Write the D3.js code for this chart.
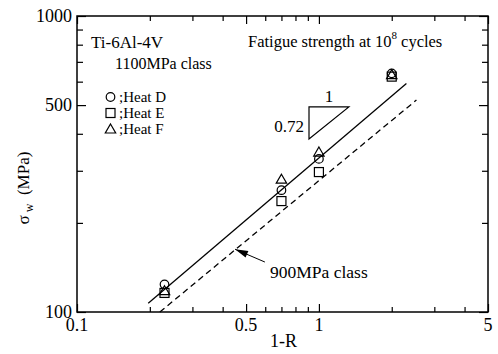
<!DOCTYPE html>
<html>
<head>
<meta charset="utf-8">
<script src="https://cdn.jsdelivr.net/npm/d3@7"></script>
<style>
  body { margin: 0; background: #fff; }
  svg { display: block; }
</style>
</head>
<body>
<div id="chart"></div>
<script>
// 1-R values of the test points
const ratios = [0.23, 0.7, 1, 2];
// fatigue strength at 10^8 cycles (MPa)
const heatD = [124, 258, 329, 640];
const heatE = [116, 237, 297, 624];
const heatF = [118, 281, 347, 634];

// fitted lines (end points)
const fit1100X = [0.197, 2.30];
const fit1100Y = [107, 592];
const fit900X = [0.220, 2.53];
const fit900Y = [100, 520];

const xMajor = [0.1, 0.5, 1, 5];
const xMinor = [0.2, 0.3, 0.4, 0.6, 0.7, 0.8, 0.9, 2, 3, 4];
const yMajor = [100, 500, 1000];
const yMinor = [200, 300, 400, 600, 700, 800, 900];

const W = 498, H = 354;
const margin = { top: 16, right: 10, bottom: 42, left: 77 };

const x = d3.scaleLog().domain([0.1, 5]).range([margin.left, W - margin.right]);
const y = d3.scaleLog().domain([100, 1000]).range([H - margin.bottom, margin.top]);

const svg = d3.select('#chart').append('svg')
  .attr('width', W)
  .attr('height', H)
  .attr('font-family', "'Liberation Serif', 'DejaVu Serif', serif");

// ticks, pointing inward on all four sides
function ticks(axis, vals, size, tr) {
  const g = svg.append('g')
    .attr('transform', tr)
    .call(axis.tickValues(vals).tickSize(size).tickFormat(''));
  g.select('.domain').remove();
  g.selectAll('line').attr('stroke', '#000').attr('stroke-width', 1.2);
}
const bottomY = y(100), topY = y(1000), leftX = x(0.1), rightX = x(5);
ticks(d3.axisBottom(x), xMinor, -5, 'translate(0,' + bottomY + ')');
ticks(d3.axisBottom(x), xMajor, -8, 'translate(0,' + bottomY + ')');
ticks(d3.axisTop(x), xMinor, -5, 'translate(0,' + topY + ')');
ticks(d3.axisTop(x), xMajor, -8, 'translate(0,' + topY + ')');
ticks(d3.axisLeft(y), yMinor, -6, 'translate(' + leftX + ',0)');
ticks(d3.axisLeft(y), yMajor, -9, 'translate(' + leftX + ',0)');
ticks(d3.axisRight(y), yMinor, -6, 'translate(' + rightX + ',0)');
ticks(d3.axisRight(y), yMajor, -9, 'translate(' + rightX + ',0)');

svg.append('rect')
  .attr('x', leftX).attr('y', topY)
  .attr('width', rightX - leftX).attr('height', bottomY - topY)
  .attr('fill', 'none').attr('stroke', '#000').attr('stroke-width', 1.5);

// tick labels
svg.selectAll('.xl').data(xMajor).enter().append('text')
  .attr('x', d => x(d)).attr('y', bottomY + 19)
  .attr('text-anchor', 'middle').attr('font-size', 18)
  .text(d => d);
svg.selectAll('.yl').data(yMajor).enter().append('text')
  .attr('x', leftX - 5).attr('y', d => y(d) + 6)
  .attr('text-anchor', 'end').attr('font-size', 18)
  .text(d => d);

// axis titles
svg.append('text')
  .attr('x', (leftX + rightX) / 2 + 1).attr('y', H - 7)
  .attr('text-anchor', 'middle').attr('font-size', 18)
  .text('1-R');
const yt = svg.append('text')
  .attr('transform', 'translate(29,188) rotate(-90)')
  .attr('text-anchor', 'middle').attr('font-size', 17);
yt.append('tspan').text('σ');
yt.append('tspan').attr('font-size', 12).attr('dy', 4).text(' w');
yt.append('tspan').attr('dy', -4).text('\u2002(MPa)');

// fitted lines
const line = d3.line().x(d => x(d[0])).y(d => y(d[1]));
svg.append('path')
  .attr('d', line(d3.zip(fit1100X, fit1100Y)))
  .attr('fill', 'none').attr('stroke', '#000').attr('stroke-width', 1.3);
svg.append('path')
  .attr('d', line(d3.zip(fit900X, fit900Y)))
  .attr('fill', 'none').attr('stroke', '#000').attr('stroke-width', 1.3)
  .attr('stroke-dasharray', '6,4');

// markers
const circle = (g, cx, cy) => g.append('circle').attr('cx', cx).attr('cy', cy).attr('r', 4.3);
const square = (g, cx, cy) => g.append('rect').attr('x', cx - 4.5).attr('y', cy - 4.5).attr('width', 9).attr('height', 9);
const triangle = (g, cx, cy) => g.append('path')
  .attr('d', 'M' + cx + ',' + (cy - 5) + 'L' + (cx + 5.2) + ',' + (cy + 4) + 'L' + (cx - 5.2) + ',' + (cy + 4) + 'Z');

const marks = svg.append('g').attr('fill', 'none').attr('stroke', '#000').attr('stroke-width', 1.2);
ratios.forEach((r, i) => {
  circle(marks, x(r), y(heatD[i]));
  square(marks, x(r), y(heatE[i]));
  triangle(marks, x(r), y(heatF[i]));
});

// legend
const legend = [['Heat D', circle], ['Heat E', square], ['Heat F', triangle]];
legend.forEach((d, i) => {
  const cy = 97 + i * 16;
  d[1](marks, 110.5, cy);
  svg.append('text').attr('x', 119).attr('y', cy + 5).attr('font-size', 15).text(';' + d[0]);
});

svg.append('text').attr('x', 91).attr('y', 48).attr('font-size', 17).text('Ti-6Al-4V');
svg.append('text').attr('x', 115).attr('y', 69).attr('font-size', 16).text('1100MPa class');

const ft = svg.append('text').attr('x', 248).attr('y', 47).attr('font-size', 16.5);
ft.append('tspan').text('Fatigue strength at 10');
ft.append('tspan').attr('font-size', 11).attr('dy', -8).text('8');
ft.append('tspan').attr('dy', 8).text(' cycles');

// slope triangle
const triX = [0.91, 1.33], triY = [384, 493];
svg.append('path')
  .attr('d', 'M' + x(triX[0]) + ',' + y(triY[0]) + 'L' + x(triX[0]) + ',' + y(triY[1]) +
    'L' + x(triX[1]) + ',' + y(triY[1]) + 'Z')
  .attr('fill', 'none').attr('stroke', '#000').attr('stroke-width', 1.2);
svg.append('text').attr('x', x(triX[0]) - 5).attr('y', 132)
  .attr('text-anchor', 'end').attr('font-size', 17).text('0.72');
svg.append('text').attr('x', 329).attr('y', 102)
  .attr('text-anchor', 'middle').attr('font-size', 17).text('1');

// 900MPa class label with arrow
const tip = [x(0.45), y(163)], tail = [x(0.598), y(147.5)];
const ang = Math.atan2(tail[1] - tip[1], tail[0] - tip[0]);
svg.append('line')
  .attr('x1', tip[0]).attr('y1', tip[1]).attr('x2', tail[0]).attr('y2', tail[1])
  .attr('stroke', '#000').attr('stroke-width', 1);
const hl = 13, hw = 3.5;
const bx = tip[0] + hl * Math.cos(ang), by = tip[1] + hl * Math.sin(ang);
svg.append('path')
  .attr('d', 'M' + tip[0] + ',' + tip[1] +
    'L' + (bx - hw * Math.sin(ang)) + ',' + (by + hw * Math.cos(ang)) +
    'L' + (bx + hw * Math.sin(ang)) + ',' + (by - hw * Math.cos(ang)) + 'Z')
  .attr('fill', '#000');
svg.append('text').attr('x', 270).attr('y', 278).attr('font-size', 17.5).text('900MPa class');
</script>
</body>
</html>
